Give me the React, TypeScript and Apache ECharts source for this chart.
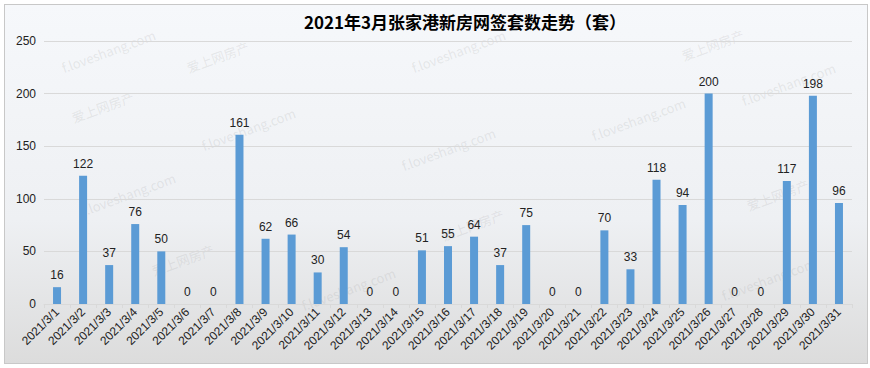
import React, { useEffect, useRef } from "react";
import * as echarts from "echarts";

const categories: string[] = [
  "2021/3/1", "2021/3/2", "2021/3/3", "2021/3/4", "2021/3/5", "2021/3/6", "2021/3/7", "2021/3/8",
  "2021/3/9", "2021/3/10", "2021/3/11", "2021/3/12", "2021/3/13", "2021/3/14", "2021/3/15", "2021/3/16",
  "2021/3/17", "2021/3/18", "2021/3/19", "2021/3/20", "2021/3/21", "2021/3/22", "2021/3/23", "2021/3/24",
  "2021/3/25", "2021/3/26", "2021/3/27", "2021/3/28", "2021/3/29", "2021/3/30", "2021/3/31",
];
const values: number[] = [
  16, 122, 37, 76, 50, 0, 0, 161, 62, 66, 30, 54, 0, 0, 51, 55, 64, 37, 75, 0, 0, 70, 33, 118, 94, 200, 0, 0, 117, 198, 96,
];
const titleText = "2021年3月张家港新房网签套数走势（套）";
const watermarks: { text: string; x: number; y: number }[] = [
  { text: "f.loveshang.com", x: 60, y: 62 },
  { text: "爱上网房产", x: 185, y: 62 },
  { text: "爱上网房产", x: 70, y: 112 },
  { text: "f.loveshang.com", x: 410, y: 62 },
  { text: "f.loveshang.com", x: 200, y: 140 },
  { text: "爱上网房产", x: 680, y: 50 },
  { text: "f.loveshang.com", x: 740, y: 95 },
  { text: "f.loveshang.com", x: 80, y: 205 },
  { text: "爱上网房产", x: 150, y: 265 },
  { text: "f.loveshang.com", x: 400, y: 160 },
  { text: "爱上网房产", x: 440, y: 230 },
  { text: "f.loveshang.com", x: 590, y: 130 },
  { text: "爱上网房产", x: 745, y: 200 },
  { text: "f.loveshang.com", x: 300, y: 300 },
  { text: "f.loveshang.com", x: 720, y: 290 },
];

export default function App() {
  const ref = useRef<HTMLDivElement>(null);
  useEffect(() => {
    if (!ref.current) return;
    const chart = echarts.init(ref.current, undefined, { renderer: "svg" });
    chart.setOption({
      animation: false,
      title: {
        text: titleText,
        left: 460,
        textAlign: "center",
        top: 8,
        textStyle: { fontSize: 17, fontWeight: "bold", color: "#000", fontFamily: "Noto Sans CJK SC" },
      },
      graphic: watermarks.map((w) => ({
        type: "text",
        x: w.x,
        y: w.y,
        rotation: 0.35,
        silent: true,
        z: -1,
        style: { text: w.text, fill: "rgba(150,150,150,0.18)", font: "13px 'Noto Sans CJK SC'" },
      })),
      grid: { left: 44, right: 18, top: 41, bottom: 64, containLabel: false },
      xAxis: {
        type: "category",
        data: categories,
        axisLine: { lineStyle: { color: "#d9d9d9" } },
        axisTick: { show: true, alignWithLabel: false, length: 4, lineStyle: { color: "#d9d9d9" } },
        axisLabel: {
          rotate: 45,
          interval: 0,
          fontSize: 12,
          color: "#222",
          margin: 6,
          fontFamily: "Liberation Sans",
        },
      },
      yAxis: {
        type: "value",
        min: 0,
        max: 250,
        interval: 50,
        axisLine: { show: false },
        axisTick: { show: false },
        splitLine: { lineStyle: { color: "#d9d9d9" } },
        axisLabel: { fontSize: 12, color: "#222", margin: 8, fontFamily: "Liberation Sans" },
      },
      series: [
        {
          type: "bar",
          data: values,
          barWidth: 8,
          itemStyle: { color: "#5b9bd5" },
          label: {
            show: true,
            position: "top",
            distance: 6,
            fontSize: 12,
            color: "#222",
            fontFamily: "Liberation Sans",
          },
        },
      ],
    });
    return () => chart.dispose();
  }, []);
  return (
    <div style={{ position: "absolute", left: 0, top: 0, width: 870, height: 368, background: "#fff" }}>
      <div
        style={{
          position: "absolute",
          left: 4,
          top: 4,
          width: 862,
          height: 358,
          border: "1px solid #c8c8c8",
          background: "linear-gradient(to bottom, #f6f8fb 0%, #eef0f3 60%, #dcdcdc 100%)",
        }}
      />
      <div ref={ref} style={{ position: "absolute", left: 0, top: 0, width: 870, height: 368 }} />
    </div>
  );
}
